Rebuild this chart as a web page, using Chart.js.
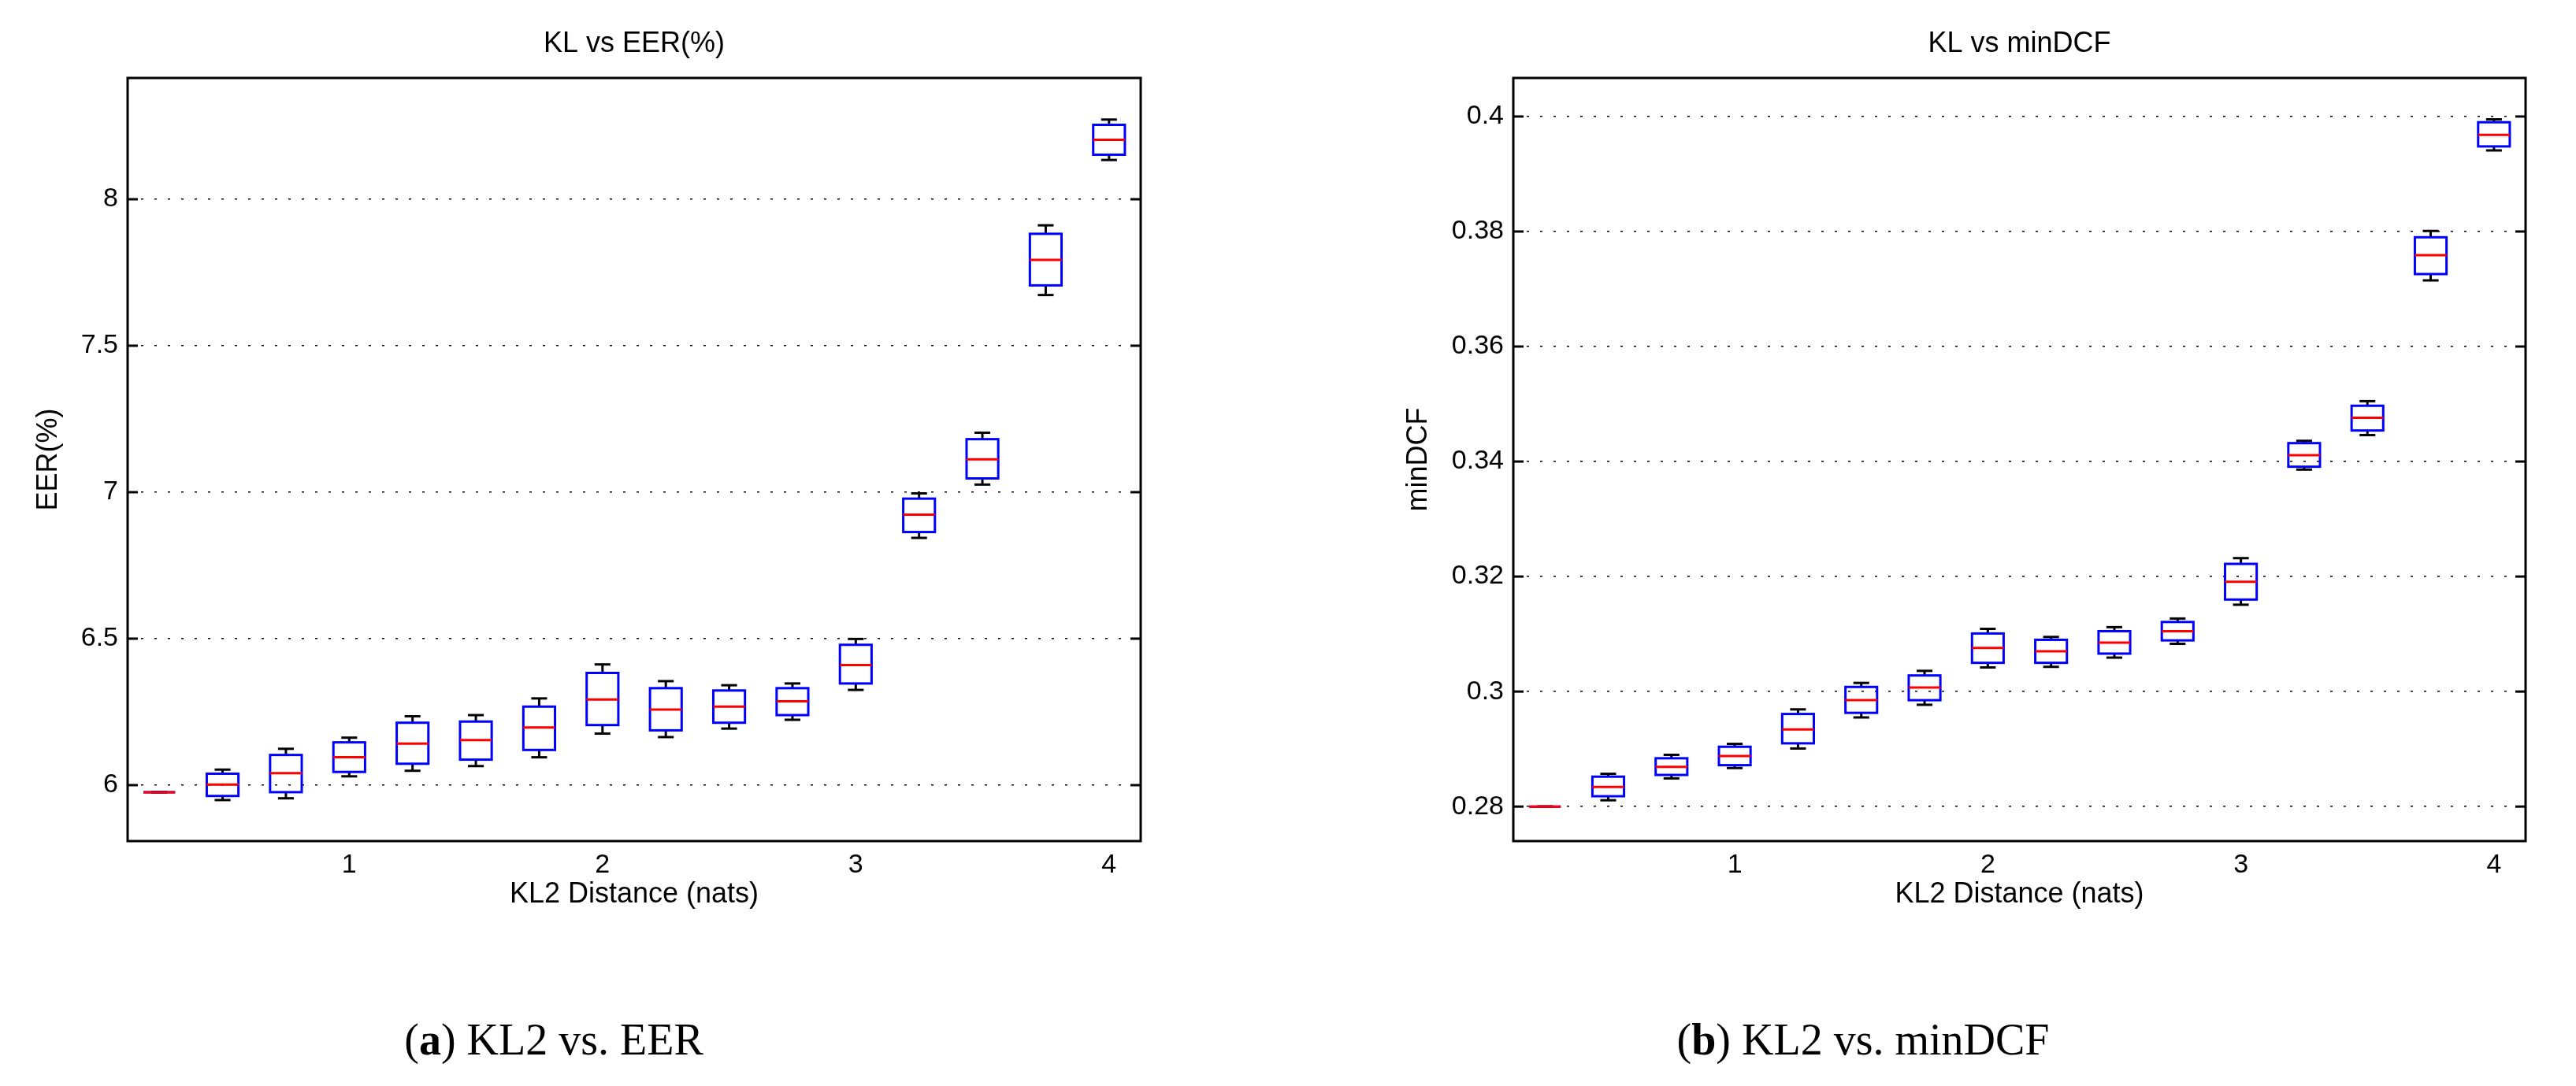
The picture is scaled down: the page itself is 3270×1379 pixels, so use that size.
<!DOCTYPE html>
<html>
<head>
<meta charset="utf-8">
<script src="https://cdn.jsdelivr.net/npm/chart.js@4.4.0/dist/chart.umd.min.js"></script>
<style>
body { margin: 0; background: #fff; width: 3270px; height: 1379px; position: relative; overflow: hidden; }
canvas { position: absolute; top: 0; }
.cap { position: absolute; top: 1288px; font-family: "Liberation Serif", "Times New Roman", serif; font-size: 56px;
       transform: translateX(-50%); white-space: nowrap; color: #000; line-height: 64px; }
</style>
</head>
<body>
<canvas id="eerChart" width="1500" height="1180" style="left:0"></canvas>
<canvas id="dcfChart" width="1630" height="1180" style="left:1640px"></canvas>
<div class="cap" style="left:703px">(<b>a</b>) KL2 vs. EER</div>
<div class="cap" style="left:2365px">(<b>b</b>) KL2 vs. minDCF</div>

<script>
// KL2 distance of each box (nats)
const klPos = [0.25, 0.5, 0.75, 1, 1.25, 1.5, 1.75, 2, 2.25, 2.5, 2.75, 3, 3.25, 3.5, 3.75, 4];
const xTicks = [1, 2, 3, 4];
const xTickLabels = ['1', '2', '3', '4'];

// EER(%) box stats
const eerMax = [5.976, 6.053, 6.124, 6.162, 6.235, 6.239, 6.296, 6.412, 6.355, 6.341, 6.347, 6.499, 6.996, 7.203, 7.911, 8.272];
const eerQ3  = [5.976, 6.039, 6.103, 6.146, 6.213, 6.217, 6.268, 6.383, 6.331, 6.323, 6.331, 6.479, 6.978, 7.181, 7.882, 8.254];
const eerMed = [5.976, 6.002, 6.041, 6.095, 6.142, 6.154, 6.197, 6.292, 6.258, 6.268, 6.286, 6.410, 6.923, 7.112, 7.793, 8.203];
const eerQ1  = [5.976, 5.963, 5.976, 6.045, 6.073, 6.087, 6.120, 6.205, 6.187, 6.213, 6.239, 6.347, 6.864, 7.047, 7.706, 8.152];
const eerMin = [5.976, 5.949, 5.955, 6.030, 6.049, 6.065, 6.095, 6.176, 6.164, 6.193, 6.223, 6.325, 6.844, 7.026, 7.673, 8.134];
const eerTicks = [6, 6.5, 7, 7.5, 8];
const eerTickLabels = ['6', '6.5', '7', '7.5', '8'];

// minDCF box stats
const dcfMax = [0.2800, 0.2857, 0.2890, 0.2909, 0.2969, 0.3015, 0.3036, 0.3109, 0.3095, 0.3112, 0.3127, 0.3232, 0.3436, 0.3505, 0.3801, 0.3995];
const dcfQ3  = [0.2800, 0.2852, 0.2884, 0.2904, 0.2961, 0.3008, 0.3028, 0.3101, 0.3090, 0.3105, 0.3121, 0.3222, 0.3432, 0.3497, 0.3790, 0.3990];
const dcfMed = [0.2800, 0.2834, 0.2869, 0.2888, 0.2934, 0.2985, 0.3007, 0.3076, 0.3070, 0.3085, 0.3105, 0.3191, 0.3411, 0.3476, 0.3759, 0.3968];
const dcfQ1  = [0.2800, 0.2818, 0.2855, 0.2872, 0.2910, 0.2963, 0.2985, 0.3050, 0.3050, 0.3066, 0.3089, 0.3160, 0.3391, 0.3454, 0.3726, 0.3948];
const dcfMin = [0.2800, 0.2811, 0.2849, 0.2867, 0.2901, 0.2955, 0.2977, 0.3042, 0.3043, 0.3059, 0.3083, 0.3151, 0.3386, 0.3446, 0.3715, 0.3941];
const dcfTicks = [0.28, 0.3, 0.32, 0.34, 0.36, 0.38, 0.4];
const dcfTickLabels = ['0.28', '0.3', '0.32', '0.34', '0.36', '0.38', '0.4'];

Chart.defaults.font.family = '"Liberation Sans", Arial, sans-serif';
Chart.defaults.color = '#000';

const boxW = 0.125;

function line(ctx, x1, y1, x2, y2) {
    ctx.beginPath();
    ctx.moveTo(x1, y1);
    ctx.lineTo(x2, y2);
    ctx.stroke();
}

// matlab-like boxplot, frame, inward ticks and title
const boxPlot = {
    id: 'boxPlot',
    afterDatasetsDraw(chart, args, opts) {
        const { ctx, chartArea: a, scales: { x, y } } = chart;
        const s = opts.stats;
        ctx.save();
        ctx.lineWidth = 3;
        for (let i = 0; i < klPos.length; i++) {
            const cx = x.getPixelForValue(klPos[i]);
            const hw = x.getPixelForValue(klPos[i] + boxW / 2) - cx;
            const cw = hw / 2;
            const yMax = y.getPixelForValue(s.max[i]);
            const yQ3 = y.getPixelForValue(s.q3[i]);
            const yMed = y.getPixelForValue(s.med[i]);
            const yQ1 = y.getPixelForValue(s.q1[i]);
            const yMin = y.getPixelForValue(s.min[i]);
            ctx.strokeStyle = '#000';
            line(ctx, cx, yMax, cx, yQ3);
            line(ctx, cx, yQ1, cx, yMin);
            line(ctx, cx - cw, yMax, cx + cw, yMax);
            line(ctx, cx - cw, yMin, cx + cw, yMin);
            ctx.strokeStyle = '#0000ff';
            ctx.strokeRect(cx - hw, yQ3, 2 * hw, yQ1 - yQ3);
            ctx.strokeStyle = '#ff0000';
            line(ctx, cx - hw, yMed, cx + hw, yMed);
        }
        ctx.strokeStyle = '#000';
        ctx.lineWidth = 3;
        ctx.strokeRect(a.left, a.top, a.right - a.left, a.bottom - a.top);
        y.ticks.forEach(t => {
            const py = y.getPixelForValue(t.value);
            line(ctx, a.left, py, a.left + 13, py);
            line(ctx, a.right - 13, py, a.right, py);
        });
        ctx.fillStyle = '#000';
        ctx.font = '36px "Liberation Sans", Arial, sans-serif';
        ctx.textAlign = 'center';
        ctx.textBaseline = 'middle';
        ctx.fillText(opts.title, (a.left + a.right) / 2, 56);
        ctx.restore();
    }
};

function makeChart(id, stats, yMin, yMax, yTicks, yLabels, yTitle, title, axisW, padRight, yTitlePad) {
    return new Chart(document.getElementById(id), {
        type: 'scatter',
        data: {
            datasets: [{
                data: klPos.map((v, i) => ({ x: v, y: stats.med[i] })),
                pointRadius: 0,
                showLine: false
            }]
        },
        options: {
            responsive: false,
            animation: false,
            devicePixelRatio: 1,
            layout: { padding: { top: 99, right: padRight, left: 0, bottom: 0 } },
            plugins: {
                legend: { display: false },
                tooltip: { enabled: false },
                boxPlot: { stats: stats, title: title }
            },
            scales: {
                x: {
                    type: 'linear',
                    min: 0.125,
                    max: 4.125,
                    afterBuildTicks: sc => { sc.ticks = xTicks.map(v => ({ value: v })); },
                    afterFit: sc => { sc.height = 112; },
                    grid: { display: false },
                    border: { display: false },
                    ticks: { font: { size: 34 }, color: '#000', padding: 2, maxRotation: 0,
                             callback: (v, i) => xTickLabels[i] },
                    title: { display: true, text: 'KL2 Distance (nats)', font: { size: 36 }, color: '#000',
                             padding: { top: 0, bottom: 22 } }
                },
                y: {
                    type: 'linear',
                    min: yMin,
                    max: yMax,
                    afterBuildTicks: sc => { sc.ticks = yTicks.map(v => ({ value: v })); },
                    afterFit: sc => { sc.width = axisW; },
                    grid: { color: '#000', lineWidth: 1.5, drawTicks: false },
                    border: { display: false, dash: [3, 14] },
                    ticks: { font: { size: 34 }, color: '#000', padding: 12,
                             callback: (v, i) => yLabels[i] },
                    title: { display: true, text: yTitle, font: { size: 36 }, color: '#000',
                             padding: { top: yTitlePad, bottom: 0 } }
                }
            }
        },
        plugins: [boxPlot]
    });
}

makeChart('eerChart',
    { max: eerMax, q3: eerQ3, med: eerMed, q1: eerQ1, min: eerMin },
    5.809, 8.414, eerTicks, eerTickLabels, 'EER(%)', 'KL vs EER(%)', 162, 52, 40);

makeChart('dcfChart',
    { max: dcfMax, q3: dcfQ3, med: dcfMed, q1: dcfQ1, min: dcfMin },
    0.274, 0.4067, dcfTicks, dcfTickLabels, 'minDCF', 'KL vs minDCF', 281, 64, 139);
</script>
</body>
</html>
